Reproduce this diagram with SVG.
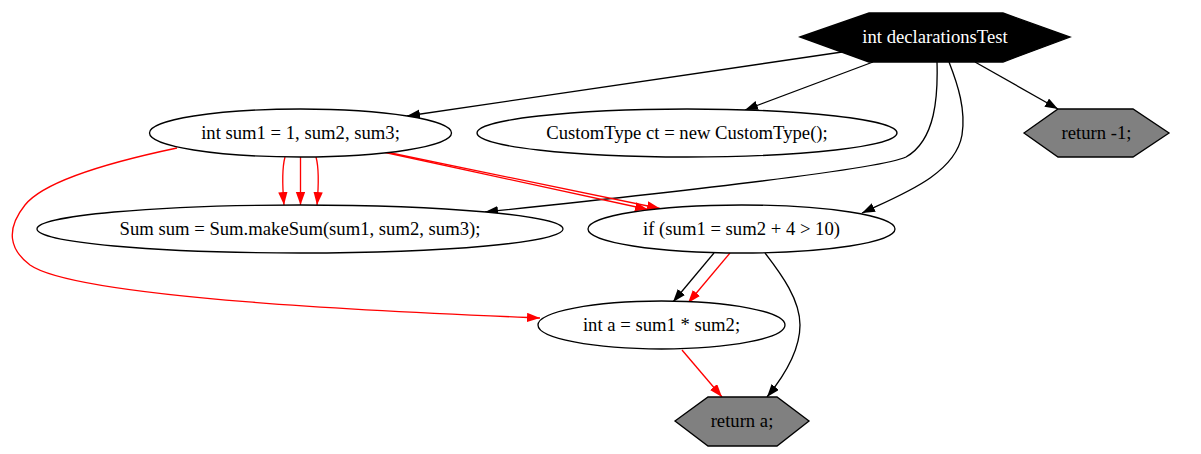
<svg xmlns="http://www.w3.org/2000/svg" width="1201" height="454" viewBox="0 0 1201 454">
<style>
text{font-family:"Liberation Serif","Times New Roman",serif;font-size:18.67px;text-anchor:middle}
.n{fill:#fff;stroke:#000;stroke-width:1.33}
.g{fill:#808080;stroke:#000;stroke-width:1.33}
.e{fill:none;stroke:#000;stroke-width:1.33}
.r{fill:none;stroke:#f00;stroke-width:1.33}
</style>
<defs>
<marker id="ab" markerUnits="userSpaceOnUse" markerWidth="14" markerHeight="10" refX="13" refY="4.67" orient="auto" viewBox="0 0 14 10"><path d="M0,0 L13,4.67 L0,9.33 z" fill="#000"/></marker>
<marker id="ar" markerUnits="userSpaceOnUse" markerWidth="14" markerHeight="10" refX="13" refY="4.67" orient="auto" viewBox="0 0 14 10"><path d="M0,0 L13,4.67 L0,9.33 z" fill="#f00"/></marker>
</defs>
<rect width="1201" height="454" fill="#fff"/>
<g id="connectors">
<path class="e" marker-end="url(#ab)" d="M842,52 L407,116"/>
<path class="e" marker-end="url(#ab)" d="M873,62 L745,110"/>
<path class="e" marker-end="url(#ab)" d="M937,62 C938,95 936,140 906,157 C880,170 620,198 485,212"/>
<path class="e" marker-end="url(#ab)" d="M949,62 C958,85 966,110 962,135 C955,175 900,195 862,213"/>
<path class="e" marker-end="url(#ab)" d="M975,62 L1058,109"/>
<path class="r" marker-end="url(#ar)" d="M285,157 C282,168 282,182 284,205"/>
<path class="r" marker-end="url(#ar)" d="M300.5,157 L300.5,205"/>
<path class="r" marker-end="url(#ar)" d="M316,157 C319,168 319,182 317,205"/>
<path class="r" marker-end="url(#ar)" d="M383,152 L648,209.5"/>
<path class="r" marker-end="url(#ar)" d="M386,152 L660,208.5"/>
<path class="r" marker-end="url(#ar)" d="M177,148 C120,160 45,180 25,205 C5,230 10,250 30,265 C80,300 420,313 540,318"/>
<path class="e" marker-end="url(#ab)" d="M714,253 L673,302"/>
<path class="r" marker-end="url(#ar)" d="M730,253 L688,303"/>
<path class="e" marker-end="url(#ab)" d="M765,253 C782,275 800,300 800,325 C800,350 785,375 767,397"/>
<path class="r" marker-end="url(#ar)" d="M682,350 L722,397"/>
</g>
<g id="n_decl">
<polygon points="800,37 869,13 1003,13 1070,37 1003,62 869,62" fill="#000" stroke="#000" stroke-width="1.33"/>
<text x="935" y="43" fill="#fff">int declarationsTest</text>
</g>
<g id="n_sum1">
<ellipse class="n" cx="300.5" cy="133" rx="151" ry="24"/>
<text x="300.5" y="139">int sum1 = 1, sum2, sum3;</text>
</g>
<g id="n_ct">
<ellipse class="n" cx="687" cy="133" rx="210" ry="24"/>
<text x="687" y="139">CustomType ct = new CustomType();</text>
</g>
<g id="n_ret1">
<polygon class="g" points="1024,133 1058,109 1133,109 1169,133 1133,157 1058,157"/>
<text x="1096.5" y="139">return -1;</text>
</g>
<g id="n_sum">
<ellipse class="n" cx="300" cy="229" rx="263" ry="24"/>
<text x="300" y="235">Sum sum = Sum.makeSum(sum1, sum2, sum3);</text>
</g>
<g id="n_if">
<ellipse class="n" cx="741.5" cy="229" rx="153.5" ry="24"/>
<text x="741.5" y="235">if (sum1 = sum2 + 4 &gt; 10)</text>
</g>
<g id="n_a">
<ellipse class="n" cx="661.5" cy="325" rx="123.5" ry="24"/>
<text x="661.5" y="331">int a = sum1 * sum2;</text>
</g>
<g id="n_reta">
<polygon class="g" points="675,421 708,397 777,397 809,421 777,446 708,446"/>
<text x="742" y="427">return a;</text>
</g>
</svg>
